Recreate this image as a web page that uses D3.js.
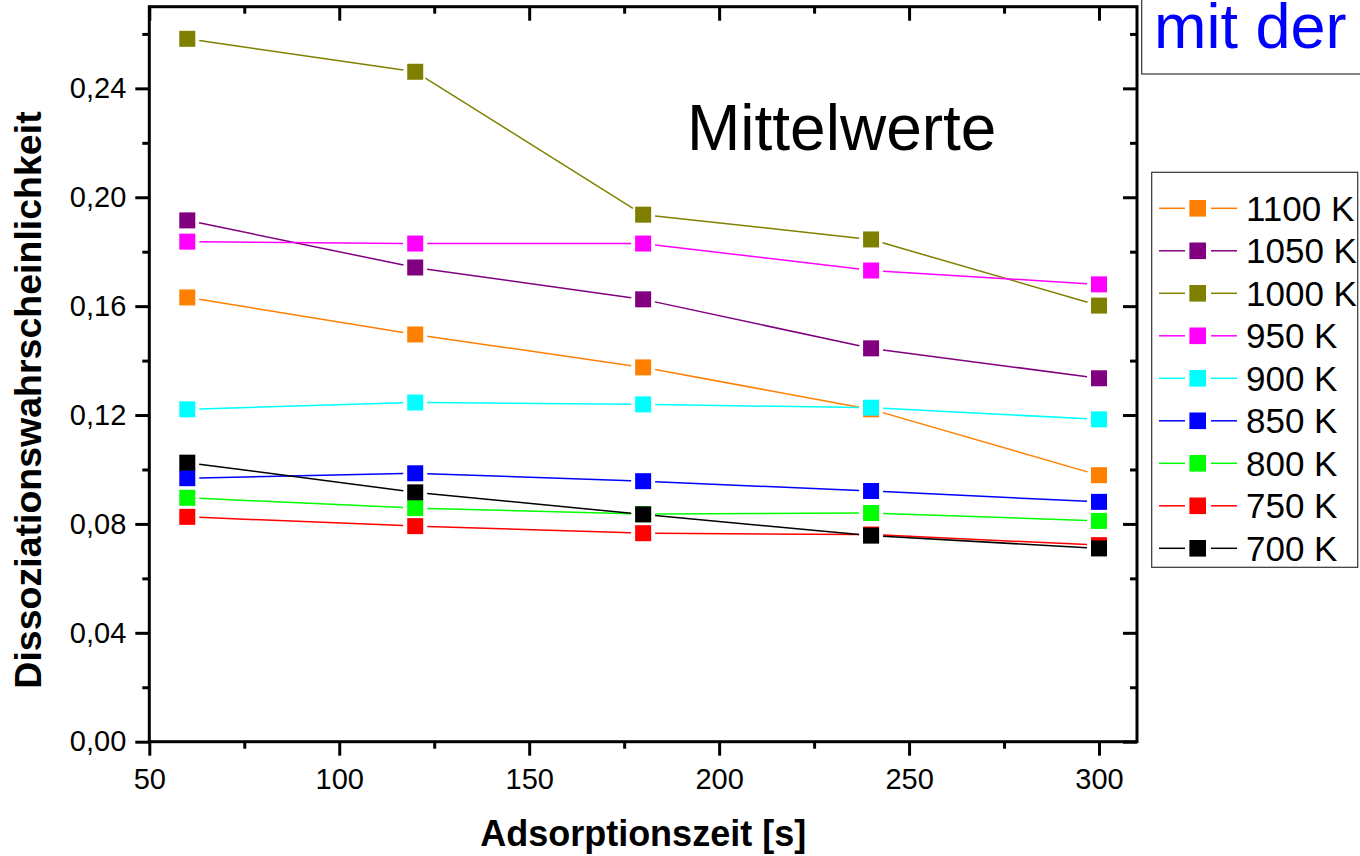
<!DOCTYPE html>
<html>
<head>
<meta charset="utf-8">
<script src="https://cdn.jsdelivr.net/npm/d3@7"></script>
<style>
  html, body { margin: 0; padding: 0; background: #fff; }
  svg { display: block; font-family: "Liberation Sans", Arial, Helvetica, sans-serif; }
</style>
</head>
<body>
<svg id="chart" width="1360" height="856"></svg>
<script>
// Adsorption times (s)
const times = [60, 120, 180, 240, 300];

// Series labels and colours (legend order, top to bottom)
const seriesNames = ["1100 K", "1050 K", "1000 K", "950 K", "900 K", "850 K", "800 K", "750 K", "700 K"];
const seriesColors = ["#ff8000", "#800080", "#808000", "#ff00ff", "#00ffff", "#0000ff", "#00ff00", "#ff0000", "#000000"];

// Mean dissociation probability per temperature
const p1100 = [0.1632, 0.1496, 0.1375, 0.1221, 0.0979];
const p1050 = [0.1915, 0.1742, 0.1625, 0.1445, 0.1335];
const p1000 = [0.2582, 0.2461, 0.1936, 0.1845, 0.1602];
const p950  = [0.1837, 0.1830, 0.1830, 0.1731, 0.1680];
const p900  = [0.1221, 0.1246, 0.1239, 0.1227, 0.1184];
const p850  = [0.0968, 0.0986, 0.0957, 0.0921, 0.0881];
const p800  = [0.0896, 0.0858, 0.0836, 0.0840, 0.0811];
const p750  = [0.0826, 0.0792, 0.0766, 0.0761, 0.0722];
const p700  = [0.1025, 0.0916, 0.0835, 0.0757, 0.0710];

// Axis ticks
const xTicks = [50, 100, 150, 200, 250, 300];
const xMinorTicks = [75, 125, 175, 225, 275];
const yTicks = [0, 0.04, 0.08, 0.12, 0.16, 0.20, 0.24];
const yMinorTicks = [0.02, 0.06, 0.10, 0.14, 0.18, 0.22, 0.26];

const values = [p1100, p1050, p1000, p950, p900, p850, p800, p750, p700];
const series = seriesNames.map((name, i) => ({
  name, color: seriesColors[i],
  points: times.map((t, j) => ({ t, v: values[i][j] }))
}));

const svg = d3.select("#chart");
const plot = { left: 149.3, right: 1137, top: 6.7, bottom: 741.7 };

const x = d3.scaleLinear().domain([50, 310]).range([plot.left, plot.right]);
const y = d3.scaleLinear().domain([0, 0.27]).range([plot.bottom, plot.top]);

const fmt = d => d3.format(".2f")(d).replace(".", ",");
const majorLen = 14, minorLen = 7;

function styleAxis(g) {
  g.select(".domain").remove();
  g.selectAll(".tick line").attr("stroke", "#000").attr("stroke-width", 3);
  g.selectAll("text").attr("fill", "#000").attr("font-size", 29)
    .attr("font-family", '"Liberation Sans", Arial, sans-serif');
}

// Bottom axis (outward ticks)
svg.append("g").attr("transform", `translate(0,${plot.bottom})`)
  .call(d3.axisBottom(x).tickValues(xTicks).tickSize(majorLen).tickPadding(13).tickFormat(d3.format("d")))
  .call(styleAxis);
svg.append("g").attr("transform", `translate(0,${plot.bottom})`)
  .call(d3.axisBottom(x).tickValues(xMinorTicks).tickSize(minorLen).tickFormat(""))
  .call(styleAxis);

// Left axis (outward ticks)
svg.append("g").attr("transform", `translate(${plot.left},0)`)
  .call(d3.axisLeft(y).tickValues(yTicks).tickSize(majorLen).tickPadding(9).tickFormat(fmt))
  .call(styleAxis);
svg.append("g").attr("transform", `translate(${plot.left},0)`)
  .call(d3.axisLeft(y).tickValues(yMinorTicks).tickSize(minorLen).tickFormat(""))
  .call(styleAxis);

// Top axis (inward ticks)
svg.append("g").attr("transform", `translate(0,${plot.top})`)
  .call(d3.axisTop(x).tickValues(xTicks).tickSize(-majorLen).tickFormat(""))
  .call(styleAxis);
svg.append("g").attr("transform", `translate(0,${plot.top})`)
  .call(d3.axisTop(x).tickValues(xMinorTicks).tickSize(-minorLen).tickFormat(""))
  .call(styleAxis);

// Right axis (inward ticks)
svg.append("g").attr("transform", `translate(${plot.right},0)`)
  .call(d3.axisRight(y).tickValues(yTicks).tickSize(-majorLen).tickFormat(""))
  .call(styleAxis);
svg.append("g").attr("transform", `translate(${plot.right},0)`)
  .call(d3.axisRight(y).tickValues(yMinorTicks).tickSize(-minorLen).tickFormat(""))
  .call(styleAxis);

// Frame
svg.append("rect")
  .attr("x", plot.left).attr("y", plot.top)
  .attr("width", plot.right - plot.left).attr("height", plot.bottom - plot.top)
  .attr("fill", "none").attr("stroke", "#000").attr("stroke-width", 3);

// Series: line segments stop short of each marker, markers are squares
const markerSize = 16, gap = 12;
const seriesLayer = svg.append("g");
series.forEach(s => {
  const g = seriesLayer.append("g");
  const segs = d3.pairs(s.points).map(([a, b]) => {
    const x1 = x(a.t), y1 = y(a.v), x2 = x(b.t), y2 = y(b.v);
    const len = Math.hypot(x2 - x1, y2 - y1);
    const ux = (x2 - x1) / len, uy = (y2 - y1) / len;
    return { x1: x1 + ux * gap, y1: y1 + uy * gap, x2: x2 - ux * gap, y2: y2 - uy * gap };
  });
  g.selectAll("line").data(segs).join("line")
    .attr("x1", d => d.x1).attr("y1", d => d.y1)
    .attr("x2", d => d.x2).attr("y2", d => d.y2)
    .attr("stroke", s.color).attr("stroke-width", 1.5);
  g.selectAll("rect").data(s.points).join("rect")
    .attr("x", d => x(d.t) - markerSize / 2).attr("y", d => y(d.v) - markerSize / 2)
    .attr("width", markerSize).attr("height", markerSize)
    .attr("fill", s.color);
});

// In-plot caption
svg.append("text").attr("x", 687).attr("y", 150)
  .attr("font-size", 64).attr("fill", "#000").text("Mittelwerte");

// Axis titles
svg.append("text").attr("x", (plot.left + plot.right) / 2).attr("y", 846)
  .attr("text-anchor", "middle").attr("font-size", 36).attr("font-weight", "bold")
  .attr("fill", "#000").text("Adsorptionszeit [s]");
svg.append("text")
  .attr("transform", "translate(41,400) rotate(-90)")
  .attr("text-anchor", "middle").attr("font-size", 37.5).attr("font-weight", "bold")
  .attr("fill", "#000").text("Dissoziationswahrscheinlichkeit");

// Legend
const legend = svg.append("g");
legend.append("rect").attr("x", 1151.7).attr("y", 172.3)
  .attr("width", 206).attr("height", 395)
  .attr("fill", "#fff").attr("stroke", "#333").attr("stroke-width", 1.2);
const legendRowY = d3.scaleLinear().domain([0, seriesNames.length - 1]).range([208.3, 548.3]);
series.forEach((s, i) => {
  const cy = legendRowY(i);
  legend.append("line").attr("x1", 1159).attr("x2", 1185).attr("y1", cy).attr("y2", cy)
    .attr("stroke", s.color).attr("stroke-width", 1.5);
  legend.append("line").attr("x1", 1211).attr("x2", 1237).attr("y1", cy).attr("y2", cy)
    .attr("stroke", s.color).attr("stroke-width", 1.5);
  legend.append("rect").attr("x", 1197.7 - 8.3).attr("y", cy - 8.3)
    .attr("width", 16.6).attr("height", 16.6).attr("fill", s.color);
  legend.append("text").attr("x", 1246).attr("y", cy + 12.5)
    .attr("font-size", 35).attr("fill", "#000").text(s.name);
});

// Boxed caption at top right
svg.append("rect").attr("x", 1141.7).attr("y", -5)
  .attr("width", 230).attr("height", 79)
  .attr("fill", "#fff").attr("stroke", "#333").attr("stroke-width", 1.2);
svg.append("text").attr("x", 1154).attr("y", 48.3)
  .attr("font-size", 63).attr("fill", "#0000ff").text("mit der");
</script>
</body>
</html>
